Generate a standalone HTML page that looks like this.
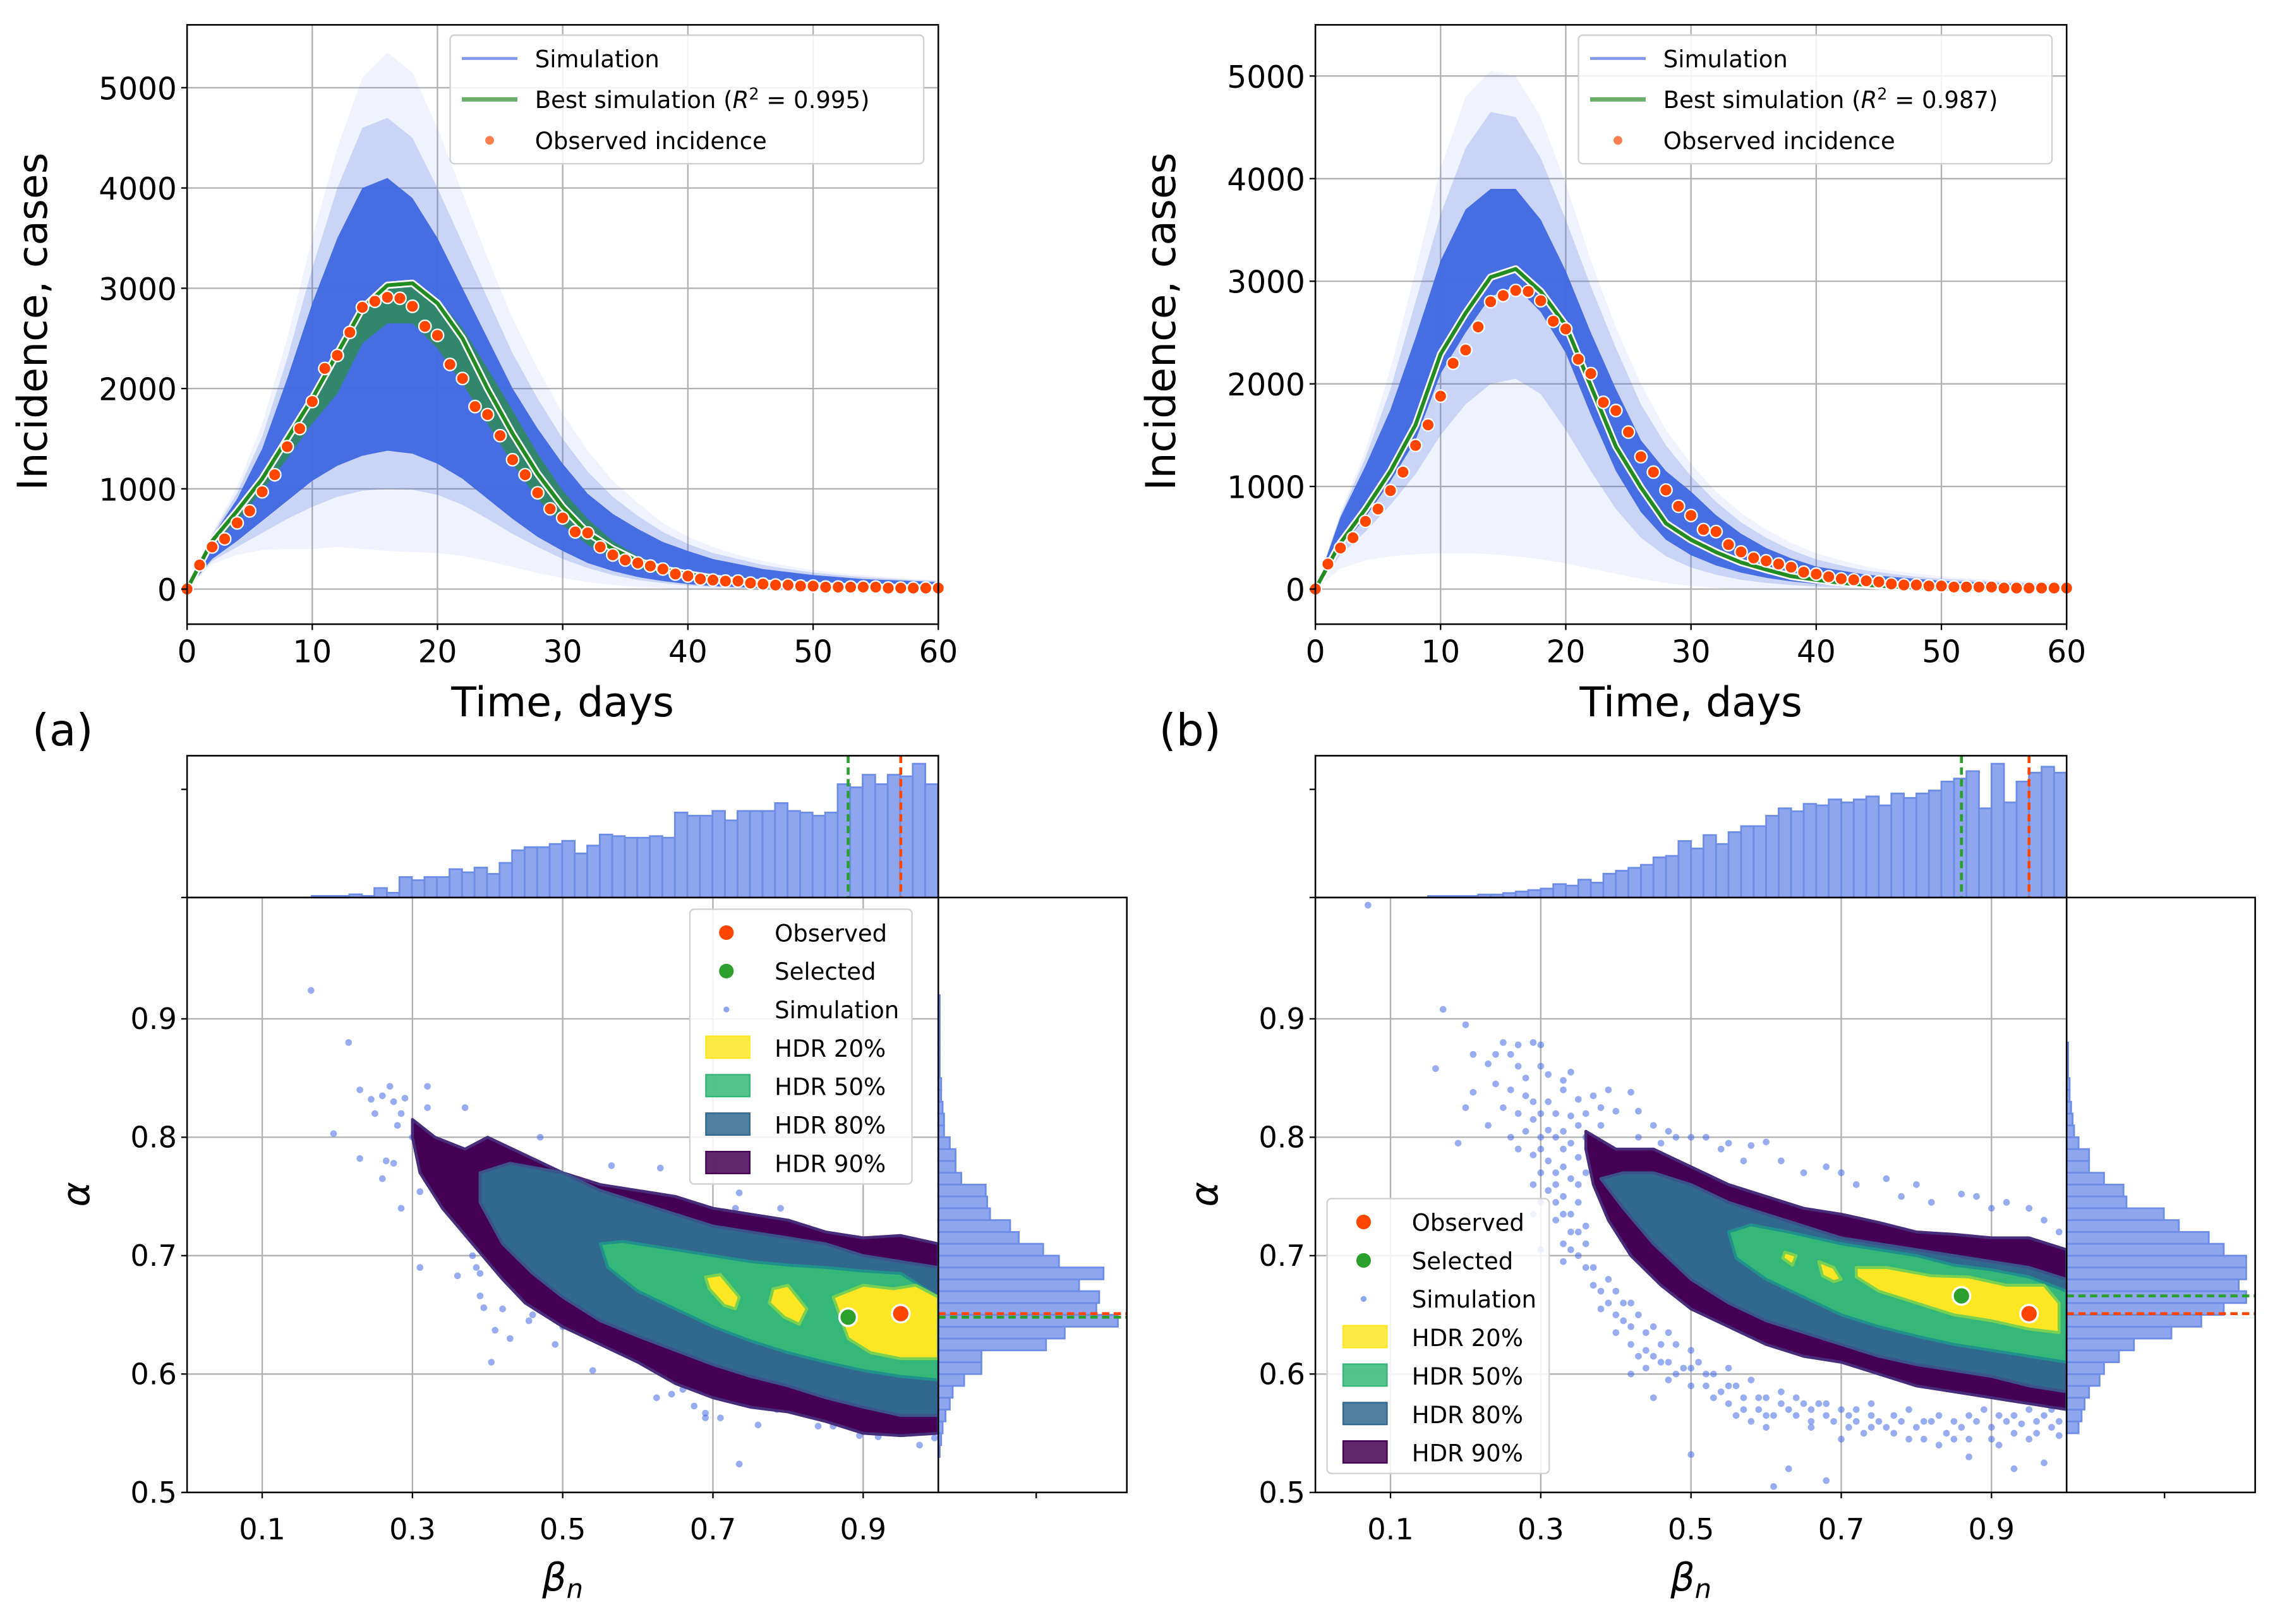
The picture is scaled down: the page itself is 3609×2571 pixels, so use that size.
<!DOCTYPE html>
<html><head><meta charset="utf-8"><style>
html,body{margin:0;padding:0;background:#fff;}
svg{display:block;font-family:"DejaVu Sans","Liberation Sans",sans-serif;}
</style></head><body>
<svg id="fig" width="3609" height="2571" viewBox="0 0 1560 1111" preserveAspectRatio="none" xmlns="http://www.w3.org/2000/svg"></svg>
<script>
// ---------- DATA ----------
const obsA=[0,240,420,500,660,780,970,1140,1420,1600,1870,2200,2330,2560,2810,2870,2910,2900,2820,2620,2530,2240,2100,1820,1740,1530,1290,1140,960,800,710,570,560,420,340,290,260,230,200,150,130,100,90,80,80,60,50,40,40,30,30,20,20,20,20,20,10,10,10,10,10];
const obsB=[0,244,400,500,660,780,960,1140,1400,1600,1880,2200,2330,2555,2800,2860,2910,2900,2810,2610,2535,2240,2100,1820,1740,1530,1290,1140,965,807,717,580,560,433,362,303,275,244,213,165,146,120,100,90,80,70,50,40,40,30,30,20,20,20,20,10,10,10,10,10,10];
const days2=[0,2,4,6,8,10,12,14,16,18,20,22,24,26,28,30,32,34,36,38,40,42,44,46,48,50,52,54,56,58,60];
const bestA=[0,480,780,1100,1500,1900,2350,2800,3030,3050,2850,2500,2000,1550,1150,820,560,400,280,200,150,110,80,60,45,35,25,20,15,10,10];
const bandAU=[0,470,760,1080,1480,1880,2330,2780,3000,3050,2900,2600,2200,1780,1350,980,700,480,330,230,170,120,90,70,50,40,30,25,20,15,10];
const bandAL=[0,420,680,980,1300,1650,1950,2450,2650,2650,2400,2050,1650,1250,900,640,440,310,210,150,110,80,60,45,35,25,20,15,10,10,10];
const denseAU=[0,520,900,1400,2100,2850,3500,4000,4100,3900,3500,3000,2500,2000,1600,1250,950,750,600,470,380,300,250,200,170,140,120,100,90,80,70];
const denseAL=[0,300,480,680,880,1080,1230,1330,1380,1350,1250,1100,900,700,520,380,260,180,120,80,50,30,20,10,5,0,0,0,0,0,0];
const midAU=[0,540,960,1520,2300,3200,4000,4600,4700,4500,4000,3450,2900,2350,1900,1500,1170,920,730,570,450,360,300,240,200,165,140,120,105,90,80];
const midAL=[0,280,420,560,700,820,920,980,1000,990,940,840,700,550,420,300,210,140,90,60,35,20,10,5,0,0,0,0,0,0,0];
const faintAU=[0,560,1020,1650,2500,3500,4400,5100,5350,5150,4600,3950,3300,2700,2200,1750,1380,1080,860,660,520,420,340,280,230,190,160,140,120,100,90];
const faintAL=[0,250,340,390,400,400,420,400,380,370,360,330,280,220,160,110,70,40,20,10,0,0,0,0,0,0,0,0,0,0,0];
const bestB=[0,450,780,1150,1600,2290,2690,3040,3120,2900,2570,1980,1390,990,640,480,360,260,190,125,90,60,40,25,15,10,5,5,0,0,0];
const denseBU=[0,700,1200,1750,2450,3200,3700,3900,3900,3600,3100,2500,1950,1450,1150,950,720,540,400,300,220,180,140,120,100,80,70,60,50,40,35];
const denseBL=[0,400,700,1050,1450,2100,2500,2850,2950,2700,2300,1700,1150,750,480,330,230,160,110,75,50,30,20,10,5,0,0,0,0,0,0];
const midBU=[0,720,1280,1950,2800,3650,4300,4650,4600,4200,3600,2950,2350,1800,1400,1100,850,650,500,380,290,230,180,150,120,100,90,75,65,55,45];
const midBL=[0,330,560,820,1120,1500,1800,2000,2050,1900,1550,1150,780,500,320,210,140,90,60,40,25,15,10,5,0,0,0,0,0,0,0];
const faintBU=[0,750,1350,2150,3100,4100,4800,5050,5000,4600,3950,3200,2550,2000,1550,1220,950,740,580,450,350,280,220,180,150,125,105,90,80,70,60];
const faintBL=[0,200,280,320,340,350,350,340,320,290,250,200,150,100,60,30,10,0,0,0,0,0,0,0,0,0,0,0,0,0,0];
const histAStart=0.166;
const histA=[1,1,1,2,1,6,3,13,11,13,13,18,16,19,15,22,30,32,32,34,36,28,33,40,39,38,38,39,38,54,52,52,55,49,55,55,55,60,55,54,52,54,72,70,78,72,78,77,85,72];
const histBStart=0.15;
const histB=[1,1,1,1,2,2,3,4,5,6,9,8,12,10,16,18,20,22,27,28,38,33,42,36,44,48,48,55,60,58,63,62,66,64,66,68,62,70,67,70,72,78,80,85,60,90,64,78,84,88,84];
const margAStart=0.53;
const margA=[1,2,3,5,8,10,18,30,30,75,88,125,110,112,98,115,84,73,56,50,36,34,33,16,12,12,8,4,4,3,2,2,1,1,1,1,1,1,1];
const margBStart=0.55;
const margB=[8,10,12,15,22,25,35,45,70,90,105,120,115,120,120,105,95,75,65,40,38,25,15,15,8,5,4,3,2,2,1,1,1];
const hdr90A=[[0.30,0.815],[0.33,0.80],[0.37,0.79],[0.40,0.80],[0.45,0.785],[0.50,0.77],[0.55,0.76],[0.60,0.755],[0.65,0.75],[0.70,0.74],[0.75,0.735],[0.80,0.73],[0.85,0.72],[0.90,0.715],[0.95,0.717],[1.0,0.71],[1.0,0.55],[0.95,0.548],[0.90,0.55],[0.85,0.56],[0.80,0.568],[0.75,0.572],[0.70,0.58],[0.65,0.592],[0.60,0.61],[0.55,0.625],[0.50,0.64],[0.45,0.66],[0.42,0.68],[0.38,0.71],[0.34,0.74],[0.31,0.77],[0.30,0.80]];
const hdr80A=[[0.39,0.77],[0.43,0.778],[0.50,0.77],[0.55,0.755],[0.60,0.745],[0.65,0.735],[0.70,0.725],[0.75,0.72],[0.80,0.715],[0.85,0.71],[0.90,0.70],[0.95,0.695],[1.0,0.69],[1.0,0.565],[0.95,0.565],[0.90,0.572],[0.85,0.58],[0.80,0.59],[0.75,0.598],[0.70,0.608],[0.65,0.62],[0.60,0.632],[0.55,0.645],[0.50,0.665],[0.46,0.685],[0.42,0.71],[0.39,0.745]];
const hdr50A=[[0.55,0.71],[0.58,0.712],[0.65,0.705],[0.70,0.70],[0.75,0.695],[0.80,0.692],[0.85,0.69],[0.90,0.687],[0.95,0.685],[1.0,0.665],[1.0,0.595],[0.95,0.598],[0.90,0.603],[0.85,0.61],[0.80,0.618],[0.75,0.628],[0.70,0.64],[0.65,0.655],[0.60,0.67],[0.56,0.69]];
const hdr20A=[[[0.69,0.682],[0.71,0.684],[0.735,0.665],[0.73,0.655],[0.715,0.658],[0.695,0.672]],[[0.78,0.672],[0.80,0.675],[0.825,0.655],[0.815,0.642],[0.795,0.648],[0.775,0.66]],[[0.86,0.665],[0.90,0.675],[0.94,0.672],[0.97,0.675],[1.0,0.665],[1.0,0.613],[0.95,0.613],[0.91,0.618],[0.88,0.63]]];
const hdr90B=[[0.36,0.805],[0.40,0.79],[0.45,0.79],[0.50,0.775],[0.55,0.76],[0.60,0.75],[0.65,0.74],[0.70,0.735],[0.75,0.728],[0.80,0.72],[0.85,0.718],[0.90,0.715],[0.95,0.715],[1.0,0.705],[1.0,0.57],[0.95,0.575],[0.90,0.58],[0.85,0.585],[0.80,0.59],[0.75,0.60],[0.70,0.61],[0.65,0.615],[0.60,0.625],[0.55,0.64],[0.50,0.655],[0.46,0.675],[0.42,0.70],[0.39,0.73],[0.37,0.76],[0.36,0.79]];
const hdr80B=[[0.38,0.765],[0.41,0.77],[0.45,0.77],[0.50,0.76],[0.55,0.745],[0.60,0.735],[0.65,0.725],[0.70,0.715],[0.75,0.71],[0.80,0.705],[0.85,0.70],[0.90,0.695],[0.95,0.69],[1.0,0.68],[1.0,0.585],[0.95,0.59],[0.90,0.598],[0.85,0.603],[0.80,0.608],[0.75,0.615],[0.70,0.625],[0.65,0.635],[0.60,0.645],[0.55,0.66],[0.50,0.68],[0.45,0.71],[0.41,0.74]];
const hdr50B=[[0.55,0.72],[0.58,0.726],[0.63,0.72],[0.70,0.71],[0.75,0.705],[0.80,0.70],[0.85,0.692],[0.90,0.688],[0.95,0.682],[1.0,0.67],[1.0,0.61],[0.95,0.615],[0.90,0.62],[0.85,0.625],[0.80,0.632],[0.75,0.64],[0.70,0.65],[0.65,0.665],[0.60,0.68],[0.56,0.698]];
const hdr20B=[[[0.625,0.703],[0.64,0.70],[0.635,0.692],[0.622,0.698]],[[0.67,0.695],[0.69,0.69],[0.70,0.68],[0.69,0.678],[0.675,0.683]],[[0.72,0.69],[0.76,0.69],[0.82,0.683],[0.87,0.682],[0.92,0.675],[0.97,0.675],[0.99,0.66],[0.99,0.635],[0.95,0.638],[0.90,0.645],[0.85,0.65],[0.80,0.66],[0.75,0.67],[0.72,0.682]]];
const obsPtA=[0.95,0.651], selPtA=[0.88,0.648], obsPtB=[0.95,0.651], selPtB=[0.86,0.666];
const scatA=[[0.165,0.924],[0.215,0.88],[0.195,0.803],[0.23,0.84],[0.245,0.832],[0.26,0.835],[0.27,0.843],[0.275,0.83],[0.285,0.82],[0.29,0.833],[0.25,0.82],[0.28,0.81],[0.3,0.8],[0.32,0.843],[0.32,0.825],[0.37,0.825],[0.23,0.782],[0.265,0.78],[0.275,0.778],[0.26,0.765],[0.285,0.74],[0.31,0.754],[0.31,0.69],[0.36,0.683],[0.38,0.7],[0.385,0.69],[0.39,0.685],[0.39,0.666],[0.395,0.656],[0.41,0.637],[0.43,0.63],[0.405,0.61],[0.42,0.655],[0.455,0.645],[0.46,0.65],[0.47,0.67],[0.49,0.625],[0.5,0.64],[0.54,0.603],[0.565,0.776],[0.47,0.8],[0.6,0.615],[0.625,0.58],[0.645,0.583],[0.66,0.587],[0.675,0.573],[0.69,0.567],[0.69,0.563],[0.71,0.563],[0.735,0.524],[0.755,0.574],[0.76,0.557],[0.785,0.57],[0.84,0.556],[0.86,0.556],[0.895,0.548],[0.92,0.547],[0.945,0.55],[0.975,0.54],[0.995,0.546],[0.73,0.74],[0.735,0.753],[0.63,0.774],[0.79,0.74]];
const scatB=[[0.07,0.996],[0.17,0.908],[0.2,0.895],[0.25,0.88],[0.26,0.87],[0.16,0.858],[0.21,0.87],[0.27,0.878],[0.29,0.88],[0.3,0.878],[0.23,0.862],[0.24,0.87],[0.27,0.86],[0.28,0.85],[0.3,0.86],[0.31,0.853],[0.33,0.848],[0.34,0.855],[0.21,0.838],[0.24,0.845],[0.26,0.84],[0.28,0.835],[0.29,0.83],[0.31,0.83],[0.33,0.84],[0.35,0.832],[0.37,0.835],[0.39,0.84],[0.42,0.838],[0.2,0.825],[0.25,0.825],[0.27,0.82],[0.29,0.815],[0.3,0.82],[0.32,0.82],[0.34,0.818],[0.36,0.82],[0.38,0.825],[0.4,0.822],[0.43,0.822],[0.19,0.795],[0.23,0.81],[0.26,0.8],[0.28,0.805],[0.3,0.8],[0.31,0.806],[0.33,0.805],[0.35,0.81],[0.45,0.81],[0.47,0.805],[0.5,0.8],[0.52,0.8],[0.55,0.795],[0.58,0.793],[0.6,0.796],[0.27,0.79],[0.29,0.785],[0.31,0.78],[0.33,0.79],[0.35,0.783],[0.32,0.77],[0.34,0.765],[0.36,0.77],[0.29,0.76],[0.31,0.755],[0.33,0.75],[0.35,0.745],[0.34,0.735],[0.32,0.73],[0.34,0.72],[0.36,0.725],[0.35,0.7],[0.37,0.69],[0.39,0.68],[0.4,0.67],[0.42,0.66],[0.41,0.645],[0.43,0.65],[0.45,0.64],[0.47,0.635],[0.44,0.62],[0.46,0.61],[0.48,0.625],[0.5,0.62],[0.49,0.605],[0.51,0.61],[0.53,0.6],[0.55,0.605],[0.52,0.59],[0.54,0.585],[0.56,0.59],[0.58,0.595],[0.57,0.58],[0.6,0.58],[0.62,0.585],[0.59,0.57],[0.61,0.565],[0.63,0.57],[0.65,0.575],[0.67,0.575],[0.66,0.56],[0.68,0.565],[0.7,0.57],[0.72,0.57],[0.74,0.565],[0.71,0.555],[0.73,0.55],[0.76,0.555],[0.78,0.56],[0.8,0.555],[0.82,0.56],[0.84,0.55],[0.86,0.555],[0.88,0.56],[0.9,0.555],[0.92,0.56],[0.94,0.558],[0.96,0.56],[0.98,0.555],[0.79,0.545],[0.83,0.54],[0.87,0.545],[0.91,0.54],[0.95,0.545],[0.99,0.548],[0.87,0.53],[0.93,0.52],[0.97,0.525],[0.63,0.52],[0.68,0.51],[0.5,0.532],[0.61,0.505],[0.7,0.545],[0.76,0.6],[0.8,0.6],[0.45,0.58],[0.47,0.595],[0.29,0.735],[0.3,0.705],[0.27,0.73],[0.33,0.695],[0.42,0.6],[0.88,0.75],[0.92,0.745],[0.95,0.74],[0.76,0.765],[0.8,0.76],[0.86,0.752],[0.7,0.77],[0.68,0.775],
[0.3,0.79],[0.32,0.8],[0.34,0.795],[0.36,0.8],[0.38,0.81],[0.3,0.77],[0.32,0.76],[0.33,0.775],[0.35,0.76],[0.3,0.745],[0.32,0.745],[0.33,0.735],[0.35,0.72],[0.33,0.71],[0.34,0.705],[0.36,0.71],[0.36,0.69],[0.38,0.67],[0.39,0.66],[0.41,0.66],[0.4,0.65],[0.42,0.64],[0.44,0.635],[0.46,0.625],[0.45,0.615],[0.47,0.61],[0.48,0.6],[0.5,0.605],[0.52,0.6],[0.5,0.59],[0.53,0.58],[0.55,0.59],[0.55,0.575],[0.57,0.57],[0.59,0.58],[0.6,0.565],[0.62,0.575],[0.64,0.565],[0.64,0.58],[0.66,0.57],[0.68,0.575],[0.69,0.56],[0.71,0.565],[0.72,0.56],[0.74,0.575],[0.75,0.56],[0.77,0.565],[0.79,0.57],[0.81,0.56],[0.83,0.565],[0.85,0.56],[0.87,0.565],[0.89,0.57],[0.91,0.565],[0.93,0.565],[0.95,0.57],[0.97,0.565],[0.99,0.56],[0.98,0.57],[0.96,0.55],[0.93,0.55],[0.9,0.545],[0.85,0.545],[0.81,0.545],[0.77,0.55],[0.74,0.555],[0.66,0.555],[0.6,0.555],[0.58,0.56],[0.56,0.565],[0.44,0.605],[0.43,0.615],[0.42,0.625],[0.4,0.635],[0.38,0.655],[0.37,0.675],[0.43,0.8],[0.46,0.795],[0.48,0.8],[0.54,0.79],[0.57,0.78],[0.62,0.78],[0.65,0.77],[0.72,0.76],[0.78,0.75],[0.82,0.745],[0.9,0.74],[0.97,0.73],[0.99,0.72]];
// ---------- HELPERS ----------
const svg=document.getElementById('fig');
const NS='http://www.w3.org/2000/svg';
function mk(tag,attrs,parent){const e=document.createElementNS(NS,tag);for(const k in attrs)e.setAttribute(k,attrs[k]);(parent||svg).appendChild(e);return e;}
function txt(s,x,y,size,anchor,parent){const t=mk('text',{x:x,y:y,'font-size':size,'text-anchor':anchor||'middle',fill:'#000'},parent);t.textContent=s;return t;}
function tsp(parent,s,attrs){const t=mk('tspan',attrs||{},parent);t.textContent=s;return t;}
function grp(name){const g=mk('g',{});return g;}
function linScale(d0,d1,r0,r1){return v=>r0+(v-d0)*(r1-r0)/(d1-d0);}

// ---------- TOP PANELS ----------
function topPanel(P){
  const X=linScale(0,60,P.x0,P.x1), Y=linScale(0,5000,P.y0v,P.y5000);
  const g=grp(P.name);
  const cid='clip'+P.name;
  const cp=mk('clipPath',{id:cid},g);mk('rect',{x:P.x0,y:17,width:P.x1-P.x0,height:410},cp);
  const grid=grp(P.name+'-grid');g.appendChild(grid);
  [0,10,20,30,40,50,60].forEach(t=>mk('line',{x1:X(t),x2:X(t),y1:17,y2:427,stroke:'#b0b0b0','stroke-width':1},grid));
  [0,1000,2000,3000,4000,5000].forEach(t=>mk('line',{x1:P.x0,x2:P.x1,y1:Y(t),y2:Y(t),stroke:'#b0b0b0','stroke-width':1},grid));
  const band=(u,l,fill,op,name)=>{let d='M'+days2.map((t,i)=>X(t)+','+Y(u[i])).join('L');for(let i=days2.length-1;i>=0;i--)d+='L'+X(days2[i])+','+Y(l[i]);d+='Z';
    const p=mk('path',{d:d,fill:fill,'fill-opacity':op,'clip-path':'url(#'+cid+')','stroke-linejoin':'round'},g);return p;};
  band(P.fu,P.fl,'#4169e1',0.08,'simulation-faint-envelope');
  band(P.mu,P.ml,'#4169e1',0.22,'simulation-medium-envelope');
  band(P.du,P.dl,'#4169e1',0.97,'simulation-dense-envelope');
  if(P.bu){band(P.bu,P.bl,'#2e8b57',0.85,'best-simulation-band');}
  const lp=days2.map((t,i)=>X(t)+','+Y(P.best[i])).join(' ');
  mk('polyline',{points:lp,fill:'none',stroke:'#fff','stroke-width':5,'stroke-linejoin':'round'},g);
  const bl=mk('polyline',{points:lp,fill:'none',stroke:'#228b22','stroke-width':2.6,'stroke-linejoin':'round'},g);
  
  
  const pts=grp(P.name+'-observed');g.appendChild(pts);
  P.obs.forEach((v,i)=>{const c=mk('circle',{cx:X(i),cy:Y(v),r:4.2,fill:'#ff4500',stroke:'#fff','stroke-width':1},pts);
    
    });
  mk('rect',{x:P.x0,y:17,width:P.x1-P.x0,height:410,fill:'none',stroke:'#000','stroke-width':1.1},g);
  [0,10,20,30,40,50,60].forEach(t=>{mk('line',{x1:X(t),x2:X(t),y1:427,y2:431,stroke:'#000'},g);txt(String(t),X(t),453,21,'middle',g);});
  [0,1000,2000,3000,4000,5000].forEach(t=>{mk('line',{x1:P.x0-4,x2:P.x0,y1:Y(t),y2:Y(t),stroke:'#000'},g);txt(String(t),P.x0-7,Y(t)+8,21,'end',g);});
  const xl=txt('Time, days',X(30),490,28,'middle',g);
  
  
  const yl=txt('Incidence, cases',0,0,28,'middle',g);yl.setAttribute('transform','translate('+(P.x0-96)+',220) rotate(-90)');
  
  
  const L=grp(P.name+'-legend');g.appendChild(L);
  mk('rect',{x:P.lx,y:24,width:324,height:88,rx:3,fill:'#fff','fill-opacity':0.85,stroke:'#d0d0d0'},L);
  mk('line',{x1:P.lx+8,x2:P.lx+46,y1:40,y2:40,stroke:'#8099ea','stroke-width':2},L);
  txt('Simulation',P.lx+58,46,16,'start',L);
  mk('line',{x1:P.lx+8,x2:P.lx+46,y1:68,y2:68,stroke:'#6aae6a','stroke-width':3},L);
  const t2=txt('',P.lx+58,74,16,'start',L);
  tsp(t2,'Best simulation (');tsp(t2,'R',{'font-style':'italic'});tsp(t2,'2',{dy:-6,'font-size':11});tsp(t2,' = '+P.r2+')',{dy:6});
  mk('circle',{cx:P.lx+27,cy:96,r:3,fill:'#ff7f50'},L);
  txt('Observed incidence',P.lx+58,102,16,'start',L);
}
topPanel({name:'panel-a-incidence',x0:128,x1:642,y0v:403,y5000:60,fu:faintAU,fl:faintAL,mu:midAU,ml:midAL,du:denseAU,dl:denseAL,bu:bandAU,bl:bandAL,best:bestA,obs:obsA,lx:308,r2:'0.995'});
topPanel({name:'panel-b-incidence',x0:900,x1:1414,y0v:403,y5000:52,fu:faintBU,fl:faintBL,mu:midBU,ml:midBL,du:denseBU,dl:denseBL,bu:null,bl:null,best:bestB,obs:obsB,lx:1080,r2:'0.987'});

// ---------- BOTTOM PANELS ----------
const viridis={h90:'#440154',h80:'#31688e',h50:'#35b779',h20:'#fde725'};
function bottomPanel(P){
  const X=linScale(0,1,P.x0,P.x1), Y=linScale(0.5,1.0,1021,616);
  const g=grp(P.name);
  const grid=grp(P.name+'-grid');g.appendChild(grid);
  [0.1,0.3,0.5,0.7,0.9].forEach(t=>mk('line',{x1:X(t),x2:X(t),y1:614,y2:1021,stroke:'#b0b0b0'},grid));
  [0.5,0.6,0.7,0.8,0.9].forEach(t=>mk('line',{x1:P.x0,x2:P.x1,y1:Y(t),y2:Y(t),stroke:'#b0b0b0'},grid));
  const sc=grp(P.name+'-scatter');g.appendChild(sc);
  P.scat.forEach(p=>{const c=mk('circle',{cx:X(p[0]),cy:Y(p[1]),r:2.3,fill:'#4169e1','fill-opacity':0.55},sc);
    
    });
  const poly=(arr,fill,stroke,name)=>{const p=mk('polygon',{points:arr.map(q=>X(q[0])+','+Y(q[1])).join(' '),fill:fill,stroke:stroke,'stroke-width':2,'stroke-linejoin':'round'},g);
    
    };
  poly(P.h90,viridis.h90,'#472c7a','hdr-90-region');
  poly(P.h80,viridis.h80,'#3b528b','hdr-80-region');
  poly(P.h50,viridis.h50,'#21918c','hdr-50-region');
  P.h20.forEach(b=>poly(b,viridis.h20,'#7ad151','hdr-20-region'));
  const sel=mk('circle',{cx:X(P.sel[0]),cy:Y(P.sel[1]),r:6,fill:'#2ca02c',stroke:'#fff','stroke-width':1.5},g);
  
  
  const ob=mk('circle',{cx:X(P.obs[0]),cy:Y(P.obs[1]),r:6,fill:'#ff4500',stroke:'#fff','stroke-width':1.5},g);
  
  
  mk('rect',{x:P.x0,y:614,width:P.x1-P.x0,height:407,fill:'none',stroke:'#000','stroke-width':1.1},g);
  [0.1,0.3,0.5,0.7,0.9].forEach(t=>{mk('line',{x1:X(t),x2:X(t),y1:1021,y2:1025,stroke:'#000'},g);txt(String(t),X(t),1053,20,'middle',g);});
  [0.5,0.6,0.7,0.8,0.9].forEach(t=>{mk('line',{x1:P.x0-4,x2:P.x0,y1:Y(t),y2:Y(t),stroke:'#000'},g);txt(t.toFixed(1),P.x0-7,Y(t)+7,20,'end',g);});
  const xl=txt('',X(0.5),1088,26,'middle',g);
  tsp(xl,'β',{'font-style':'italic'});tsp(xl,'n',{'font-style':'italic','font-size':18,dy:5});
  
  
  const yl=txt('α',0,0,26,'middle',g);yl.setAttribute('font-style','italic');yl.setAttribute('transform','translate('+(P.x0-67)+',817) rotate(-90)');
  
  
  const hg=grp(P.name+'-beta-histogram');g.appendChild(hg);
  const hmax=Math.max(...P.hist)*1.06, HY=linScale(0,hmax,614,517), w=1/60;
  P.hist.forEach((v,i)=>{const x=X(P.hstart+i*w);const r=mk('rect',{x:x,y:HY(v),width:X(w)-X(0),height:614-HY(v),fill:'#8ea6ee',stroke:'#6d8ce6','stroke-width':1.2},hg);
    
    });
  mk('line',{x1:X(P.sel[0]),x2:X(P.sel[0]),y1:517,y2:614,stroke:'#2ca02c','stroke-width':2,'stroke-dasharray':'5,3'},hg);
  mk('line',{x1:X(P.obs[0]),x2:X(P.obs[0]),y1:517,y2:614,stroke:'#ff4500','stroke-width':2,'stroke-dasharray':'5,3'},hg);
  mk('rect',{x:P.x0,y:517,width:P.x1-P.x0,height:97,fill:'none',stroke:'#000','stroke-width':1.1},hg);
  mk('line',{x1:P.x0-4,x2:P.x0,y1:540,y2:540,stroke:'#000'},hg);
  mk('line',{x1:P.x0-4,x2:P.x0,y1:614,y2:614,stroke:'#000'},hg);
  const mg=grp(P.name+'-alpha-histogram');g.appendChild(mg);
  const mmax=Math.max(...P.marg)*1.05, MX=linScale(0,mmax,P.x1,P.x1+129);
  P.marg.forEach((v,i)=>{const a=P.mstart+i*0.01;const r=mk('rect',{x:P.x1,y:Y(a+0.01),width:MX(v)-P.x1,height:Y(a)-Y(a+0.01),fill:'#8ea6ee',stroke:'#6d8ce6','stroke-width':1.2},mg);
    
    });
  mk('line',{x1:P.x1,x2:P.x1+129,y1:Y(P.sel[1]),y2:Y(P.sel[1]),stroke:'#2ca02c','stroke-width':2,'stroke-dasharray':'5,3'},mg);
  mk('line',{x1:P.x1,x2:P.x1+129,y1:Y(P.obs[1]),y2:Y(P.obs[1]),stroke:'#ff4500','stroke-width':2,'stroke-dasharray':'5,3'},mg);
  mk('rect',{x:P.x1,y:614,width:129,height:407,fill:'none',stroke:'#000','stroke-width':1.1},mg);
  mk('line',{x1:P.x1+67,x2:P.x1+67,y1:1021,y2:1025,stroke:'#000'},mg);
  const L=grp(P.name+'-legend');g.appendChild(L);
  const lx=P.lx, ly=P.ly;
  mk('rect',{x:lx,y:ly,width:152,height:188,rx:3,fill:'#fff','fill-opacity':0.85,stroke:'#d0d0d0'},L);
  const rows=['Observed','Selected','Simulation','HDR 20%','HDR 50%','HDR 80%','HDR 90%'];
  const cols=['#ff4500','#2ca02c','#4169e1','#fde725','#35b779','#31688e','#440154'];
  rows.forEach((r,i)=>{const cy=ly+16+i*26.3;
    if(i<3){mk('circle',{cx:lx+25,cy:cy,r:i<2?5:2,fill:cols[i],'fill-opacity':i==2?0.6:1},L);}
    else{mk('rect',{x:lx+11,y:cy-8,width:30,height:15,fill:cols[i],'fill-opacity':0.85,stroke:cols[i]},L);}
    txt(r,lx+58,cy+6,16,'start',L);});
  const lab=txt(P.label,P.labx,510,30,'start',g);
  
  
}
bottomPanel({name:'panel-a-joint',x0:128,x1:642,scat:scatA,h90:hdr90A,h80:hdr80A,h50:hdr50A,h20:hdr20A,sel:selPtA,obs:obsPtA,hist:histA,hstart:histAStart,marg:margA,mstart:margAStart,lx:472,ly:622,label:'(a)',labx:22});
bottomPanel({name:'panel-b-joint',x0:900,x1:1414,scat:scatB,h90:hdr90B,h80:hdr80B,h50:hdr50B,h20:hdr20B,sel:selPtB,obs:obsPtB,hist:histB,hstart:histBStart,marg:margB,mstart:margBStart,lx:908,ly:820,label:'(b)',labx:793});
</script>
</body></html>
